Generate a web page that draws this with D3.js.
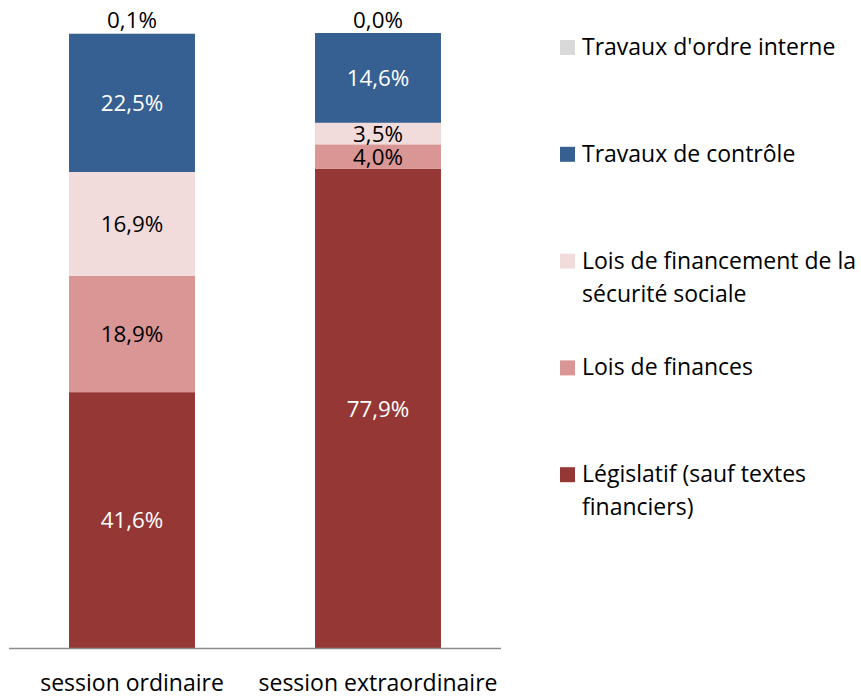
<!DOCTYPE html>
<html><head><meta charset="utf-8">
<script src="https://cdn.jsdelivr.net/npm/d3@7"></script>
<style>body{margin:0;background:#fff}svg{display:block}text{font-family:"Open Sans",sans-serif}</style>
</head><body>
<svg id="c" width="861" height="699"></svg>
<script>
const categories = ["session ordinaire", "session extraordinaire"];
const seriesNames = ["Législatif (sauf textes financiers)", "Lois de finances", "Lois de financement de la sécurité sociale", "Travaux de contrôle", "Travaux d'ordre interne"];
const legislatif = [41.6, 77.9];
const loisFinances = [18.9, 4.0];
const lfss = [16.9, 3.5];
const controle = [22.5, 14.6];
const interne = [0.1, 0.0];
const legendLines = [["Travaux d'ordre interne"], ["Travaux de contrôle"], ["Lois de financement de la", "sécurité sociale"], ["Lois de finances"], ["Législatif (sauf textes", "financiers)"]];

const colors = ["#953735", "#D99694", "#F2DCDB", "#376092", "#D9D9D9"];
const labelColors = ["#fff", "#000", "#000", "#fff", "#000"];
const values = [legislatif, loisFinances, lfss, controle, interne];

const svg = d3.select("#c");
const x = d3.scaleBand().domain(categories).range([9, 501]).paddingInner(0.488).paddingOuter(0.244);
const y = d3.scaleLinear().domain([0, 100]).range([648, 33]);

const rows = categories.map((c, i) => {
  const o = {cat: c};
  seriesNames.forEach((s, j) => o[s] = values[j][i]);
  return o;
});
const stack = d3.stack().keys(seriesNames)(rows);

const fmt = v => v.toFixed(1).replace(".", ",") + "%";

stack.forEach((layer, j) => {
  svg.append("g").selectAll("rect").data(layer).join("rect")
    .attr("x", d => x(d.data.cat))
    .attr("width", x.bandwidth())
    .attr("y", d => y(d[1]))
    .attr("height", d => y(d[0]) - y(d[1]))
    .attr("fill", colors[j]);
});

stack.forEach((layer, j) => {
  svg.append("g").selectAll("text").data(layer).join("text")
    .attr("x", d => x(d.data.cat) + x.bandwidth() / 2)
    .attr("y", d => j === seriesNames.length - 1 ? y(d[1]) - 13 : (y(d[0]) + y(d[1])) / 2)
    .attr("dy", "0.36em")
    .attr("text-anchor", "middle")
    .attr("font-size", 22.4)
    .attr("fill", j === seriesNames.length - 1 ? "#000" : labelColors[j])
    .text(d => fmt(d[1] - d[0]));
});

// axis
const xAxis = d3.axisBottom(x).tickSize(0);
const ax = svg.append("g").attr("transform", "translate(0,648)").call(xAxis);
ax.select(".domain").attr("stroke", "#8c8c8c").attr("stroke-width", 1.3).attr("d", "M9,0.5H501");
ax.selectAll("text").attr("y", 43).attr("dy", 0).attr("font-size", 23).attr("fill", "#000").attr("font-family", "Open Sans");

// legend
const legendOrder = [4, 3, 2, 1, 0];
const lg = svg.append("g");
legendOrder.forEach((si, k) => {
  const base = 55 + k * 106.8;
  lg.append("rect").attr("x", 560).attr("y", base - 15).attr("width", 15).attr("height", 15).attr("fill", colors[si]);
  legendLines[k].forEach((line, li) => {
    lg.append("text").attr("x", 582).attr("y", base + li * 33)
      .attr("font-size", 23).attr("fill", "#000").text(line);
  });
});
</script>
</body></html>
